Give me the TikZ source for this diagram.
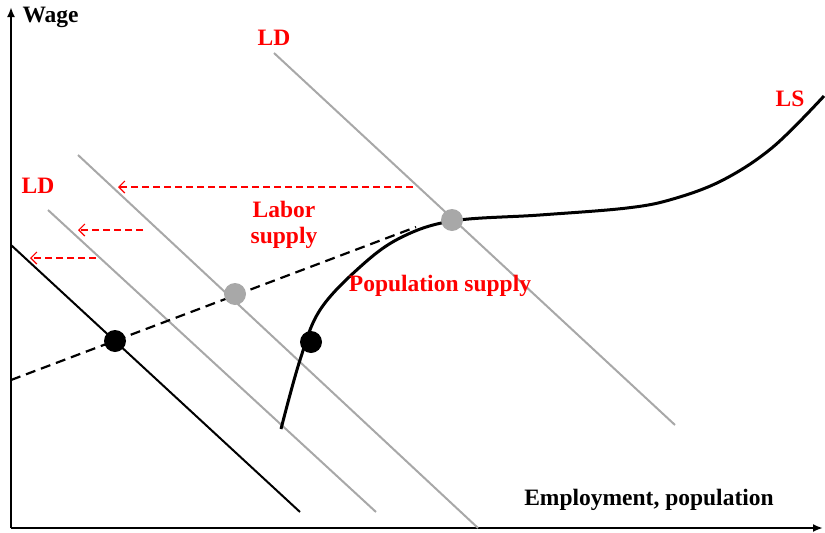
\documentclass[tikz,border=0pt]{standalone}
\usepackage{fontspec}
\setmainfont{Liberation Serif}
\usepackage{tikz}
\usetikzlibrary{arrows.meta,positioning}
\definecolor{ldgray}{RGB}{168,168,168}

\begin{document}
\begin{tikzpicture}[x=1pt,y=-1pt,font=\fontsize{23.5}{26}\selectfont\bfseries,
   ax/.style={line width=2pt,-{Latex[length=10pt,width=8pt]}},
   ld/.style={ldgray,line width=2pt},
   moveleft/.style={red,line width=1.2pt,dash pattern=on 7pt off 4pt,
                 -{Straight Barb[length=6pt,width=12pt]}},
   dot/.style={circle,inner sep=0pt,minimum size=22pt},
   lbl/.style={text=red,align=center}]
  \useasboundingbox (0,0) rectangle (825,533);
  % axes
  \coordinate (o) at (11,528);
  \coordinate (ytop) at (11,7);
  \coordinate (xend) at (823,528);
  \draw[ax] (o) -- (ytop);
  \draw[ax] (o) -- (xend);
  \node[anchor=west] (wage) at (19,17) {Wage};
  \node (emp) at (649,500) {Employment, population};
  % labour demand curves
  \coordinate (a1) at (11,245);  \coordinate (a2) at (300,512);
  \coordinate (b1) at (48,210);  \coordinate (b2) at (376,512);
  \coordinate (c1) at (78,155);  \coordinate (c2) at (478,528);
  \coordinate (d1) at (274,53);  \coordinate (d2) at (675,425);
  \draw[line width=2pt] (a1) -- (a2);
  \draw[ld] (b1) -- (b2);
  \draw[ld] (c1) -- (c2);
  \draw[ld] (d1) -- (d2);
  \node[lbl] (ldtop) at (274,38) {LD};
  \node[lbl] (ldleft) at (38,186) {LD};
  % population supply (dashed)
  \coordinate (p1) at (11,380);
  \coordinate (p2) at (416,227);
  \draw[line width=2.2pt,dash pattern=on 10pt off 6pt] (p1) -- (p2);
  % labour supply
  \draw[line width=3pt] plot[smooth,tension=0.6] coordinates
    {(281,429) (300,360) (320,310) (360,267) (400,238) (452,221) (540,215)
     (627,208) (673,199) (723,180) (773,147) (824,96)};
  \node[lbl] (ls) at (790,99) {LS};
  \node[lbl] (labsup) at (284,225) {Labor\\supply};
  \node[lbl] (popsup) at (440,286) {Population supply};
  % equilibria
  \node[dot,fill=black] (e1) at (115,341) {};
  \node[dot,fill=black] (e2) at (311,342) {};
  \node[dot,fill=ldgray] (e3) at (235,294) {};
  \node[dot,fill=ldgray] (e4) at (452,220) {};
  % shifts of demand
  \coordinate (s1a) at (413,187); \coordinate (s1b) at (118,187);
  \coordinate (s2a) at (143,230); \coordinate (s2b) at (78,230);
  \coordinate (s3a) at (96,258);  \coordinate (s3b) at (30,258);
  \draw[moveleft] (s1a) -- (s1b);
  \draw[moveleft] (s2a) -- (s2b);
  \draw[moveleft] (s3a) -- (s3b);
\end{tikzpicture}
\end{document}
